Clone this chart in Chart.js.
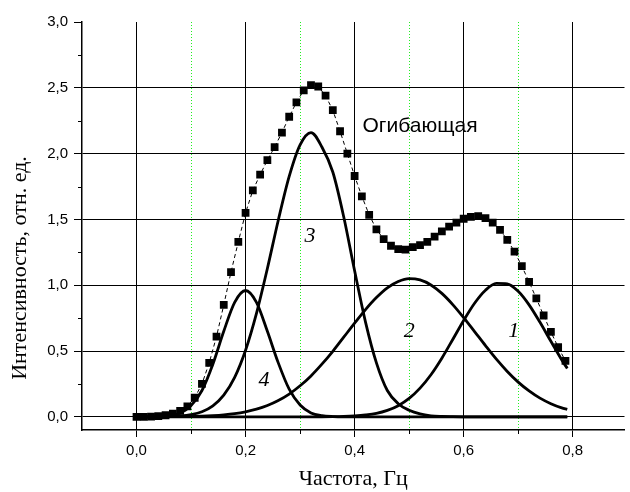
<!DOCTYPE html>
<html>
<head>
<meta charset="utf-8">
<script src="https://cdn.jsdelivr.net/npm/chart.js@4.4.1/dist/chart.umd.min.js"></script>
<style>
  html, body { margin: 0; padding: 0; background: #fff; overflow: hidden; }
  #wrap { width: 630px; height: 492px; }
</style>
</head>
<body>
<div id="wrap"><canvas id="spectrum" width="630" height="492"></canvas></div>
<script>
// frequency grid of the fitted components, Hz
const curveX = [
  0.00, 0.02, 0.04, 0.06, 0.08, 0.10, 0.12, 0.14, 0.16, 0.18,
  0.20, 0.22, 0.24, 0.26, 0.28, 0.30, 0.32, 0.34, 0.36, 0.38,
  0.40, 0.42, 0.44, 0.46, 0.48, 0.50, 0.52, 0.54, 0.56, 0.58,
  0.60, 0.62, 0.64, 0.66, 0.68, 0.70, 0.72, 0.74, 0.76, 0.78, 0.79
];

const curve1 = [
  0, 0, 0, 0, 0, 0, 0, 0, 0, 0,
  0, 0, 0, 0, 0, 0, 0, 0, 0.001, 0.003,
  0.007, 0.014, 0.026, 0.049, 0.085, 0.14, 0.218, 0.32, 0.446, 0.588,
  0.732, 0.863, 0.962, 1.014, 1.011, 0.954, 0.851, 0.718, 0.574, 0.432, 0.368
];

const curve2 = [
  0.0001, 0.0002, 0.0005, 0.0009, 0.0017, 0.003, 0.005, 0.009, 0.015, 0.024,
  0.038, 0.058, 0.086, 0.124, 0.173, 0.236, 0.311, 0.40, 0.498, 0.605,
  0.712, 0.815, 0.906, 0.98, 1.028, 1.05, 1.04, 1.002, 0.938, 0.853,
  0.754, 0.648, 0.541, 0.438, 0.345, 0.264, 0.197, 0.142, 0.100, 0.068, 0.056
];

const curve3 = [
  0, 0, 0.001, 0.003, 0.007, 0.017, 0.039, 0.084, 0.165, 0.30,
  0.506, 0.786, 1.127, 1.494, 1.827, 2.067, 2.16, 2.05, 1.86, 1.52,
  1.11, 0.72, 0.41, 0.20, 0.10, 0.05, 0.022, 0.008, 0.003, 0.001,
  0, 0, 0, 0, 0, 0, 0, 0, 0, 0, 0
];

const curve4 = [
  0, 0, 0.002, 0.008, 0.028, 0.085, 0.2, 0.4, 0.65, 0.87,
  0.96, 0.87, 0.65, 0.41, 0.21, 0.09, 0.03, 0.009, 0.002, 0,
  0, 0, 0, 0, 0, 0, 0, 0, 0, 0,
  0, 0, 0, 0, 0, 0, 0, 0, 0, 0, 0
];

// measured envelope (square markers)
const envelopeX = [
  0, 0.0133, 0.0267, 0.04, 0.0533, 0.0667, 0.08, 0.0933, 0.1067, 0.12,
  0.1333, 0.1467, 0.16, 0.1733, 0.1867, 0.2, 0.2133, 0.2267, 0.24, 0.2533,
  0.2667, 0.28, 0.2933, 0.3067, 0.32, 0.3333, 0.3467, 0.36, 0.3733, 0.3867,
  0.4, 0.4133, 0.4267, 0.44, 0.4533, 0.4667, 0.48, 0.4933, 0.5067, 0.52,
  0.5333, 0.5467, 0.56, 0.5733, 0.5867, 0.6, 0.6133, 0.6267, 0.64, 0.6533,
  0.6667, 0.68, 0.6933, 0.7067, 0.72, 0.7333, 0.7467, 0.76, 0.7733, 0.7867
];

const envelopeY = [
  0.000, 0.000, 0.002, 0.005, 0.012, 0.025, 0.046, 0.080, 0.145, 0.250,
  0.410, 0.610, 0.850, 1.100, 1.330, 1.550, 1.720, 1.840, 1.950, 2.050,
  2.160, 2.280, 2.390, 2.480, 2.520, 2.510, 2.440, 2.330, 2.170, 2.000,
  1.830, 1.675, 1.535, 1.425, 1.350, 1.300, 1.275, 1.270, 1.290, 1.305,
  1.330, 1.370, 1.410, 1.445, 1.475, 1.505, 1.520, 1.525, 1.510, 1.475,
  1.420, 1.345, 1.255, 1.145, 1.025, 0.900, 0.770, 0.645, 0.530, 0.425
];

// text placed inside the plot, in data coordinates
const noteText = ['1', '2', '3', '4', 'Огибающая'];
const noteX = [0.692, 0.5, 0.318, 0.234, 0.52];
const noteY = [0.65, 0.65, 1.37, 0.28, 2.21];

const greenGridX = [0.1, 0.3, 0.5, 0.7];
const minorTicksX = [0.1, 0.3, 0.5, 0.7];
const minorTicksY = [0.25, 0.75, 1.25, 1.75, 2.25, 2.75];

const xAxisTitle = 'Частота, Гц';
const yAxisTitle = 'Интенсивность, отн. ед.';

const SANS = '"Liberation Sans", Arial, sans-serif';
const SERIF = '"Liberation Serif", "Times New Roman", serif';
const CLEAR = 'rgba(0,0,0,0)';

function toPoints(xs, ys) {
  return xs.map((x, i) => ({ x, y: ys[i] }));
}

function commaLabel(value) {
  return value.toFixed(1).replace('.', ',');
}

function isMajorX(value) {
  const tenths = Math.round(value * 10);
  return tenths >= 0 && tenths % 2 === 0;
}

function componentDataset(label, values) {
  return {
    label,
    data: toPoints(curveX, values),
    showLine: true,
    borderColor: '#000',
    borderWidth: 2.8,
    pointRadius: 0,
    cubicInterpolationMode: 'monotone',
    fill: false,
  };
}

const decorPlugin = {
  id: 'decor',
  beforeDatasetsDraw(chart) {
    const { ctx, chartArea, scales } = chart;
    ctx.save();
    ctx.strokeStyle = '#22f022';
    ctx.lineWidth = 1;
    ctx.setLineDash([1, 2]);
    greenGridX.forEach((v) => {
      const px = Math.floor(scales.x.getPixelForValue(v)) + 0.5;
      ctx.beginPath();
      ctx.moveTo(px, chartArea.top);
      ctx.lineTo(px, chartArea.bottom);
      ctx.stroke();
    });
    ctx.restore();
  },
  afterDatasetsDraw(chart) {
    const { ctx, scales } = chart;
    ctx.save();
    ctx.fillStyle = '#000';
    ctx.textAlign = 'center';
    ctx.textBaseline = 'middle';
    noteText.forEach((text, i) => {
      ctx.font = text.length > 1 ? '21px ' + SANS : 'italic 22px ' + SERIF;
      ctx.fillText(text, scales.x.getPixelForValue(noteX[i]), scales.y.getPixelForValue(noteY[i]));
    });
    ctx.restore();
  },
  afterDraw(chart) {
    const { ctx, chartArea, scales } = chart;
    ctx.save();
    ctx.strokeStyle = '#000';
    ctx.lineWidth = 1;
    minorTicksY.forEach((v) => {
      const py = Math.round(scales.y.getPixelForValue(v)) + 0.5;
      ctx.beginPath();
      ctx.moveTo(chartArea.left - 4, py);
      ctx.lineTo(chartArea.left, py);
      ctx.stroke();
    });
    minorTicksX.forEach((v) => {
      const px = Math.floor(scales.x.getPixelForValue(v)) + 0.5;
      ctx.beginPath();
      ctx.moveTo(px, chartArea.bottom);
      ctx.lineTo(px, chartArea.bottom + 4);
      ctx.stroke();
    });

    // y title sits below the middle of the axis, as in the original
    ctx.fillStyle = '#000';
    ctx.font = '22px ' + SERIF;
    ctx.textAlign = 'center';
    ctx.textBaseline = 'middle';
    ctx.translate(20, (chartArea.top + chartArea.bottom) / 2 + 42);
    ctx.rotate(-Math.PI / 2);
    ctx.fillText(yAxisTitle, 0, 0);
    ctx.restore();
  },
};

new Chart(document.getElementById('spectrum'), {
  type: 'scatter',
  data: {
    datasets: [
      {
        label: 'Огибающая',
        data: toPoints(envelopeX, envelopeY),
        showLine: true,
        borderColor: '#000',
        borderWidth: 1,
        borderDash: [4, 3],
        pointStyle: 'rect',
        pointRadius: 5.5,
        pointBorderWidth: 0,
        pointBackgroundColor: '#000',
      },
      componentDataset('1', curve1),
      componentDataset('2', curve2),
      componentDataset('3', curve3),
      componentDataset('4', curve4),
    ],
  },
  options: {
    responsive: false,
    animation: false,
    layout: { padding: { top: 22, left: 0, right: 0, bottom: 0 } },
    plugins: {
      legend: { display: false },
      tooltip: { enabled: false },
    },
    scales: {
      x: {
        type: 'linear',
        min: -0.1,
        max: 0.895,
        afterFit(scale) {
          scale.height = 62;
        },
        ticks: {
          stepSize: 0.1,
          includeBounds: false,
          autoSkip: false,
          maxRotation: 0,
          padding: 5,
          color: '#000',
          font: { family: SANS, size: 15 },
          callback(value) {
            return isMajorX(value) ? commaLabel(value) : '';
          },
        },
        grid: {
          color: (c) => (c.tick && isMajorX(c.tick.value) ? '#000' : CLEAR),
          tickColor: (c) => (c.tick && isMajorX(c.tick.value) ? '#000' : CLEAR),
          lineWidth: 1,
          tickLength: 7,
        },
        border: { display: true, color: '#000', width: 1.5 },
        title: {
          display: true,
          text: xAxisTitle,
          color: '#000',
          font: { family: SERIF, size: 22 },
          padding: { top: 0, bottom: 0 },
        },
      },
      y: {
        min: -0.1,
        max: 3.0,
        afterFit(scale) {
          scale.width = 82;
        },
        ticks: {
          stepSize: 0.5,
          includeBounds: false,
          padding: 6,
          color: '#000',
          font: { family: SANS, size: 15 },
          callback(value) {
            return commaLabel(value);
          },
        },
        grid: {
          color: (c) => (c.tick && Math.abs(c.tick.value - 3) < 1e-6 ? CLEAR : '#000'),
          tickColor: '#000',
          lineWidth: 1,
          tickLength: 8,
        },
        border: { display: true, color: '#000', width: 1.5 },
      },
    },
  },
  plugins: [decorPlugin],
});
</script>
</body>
</html>
